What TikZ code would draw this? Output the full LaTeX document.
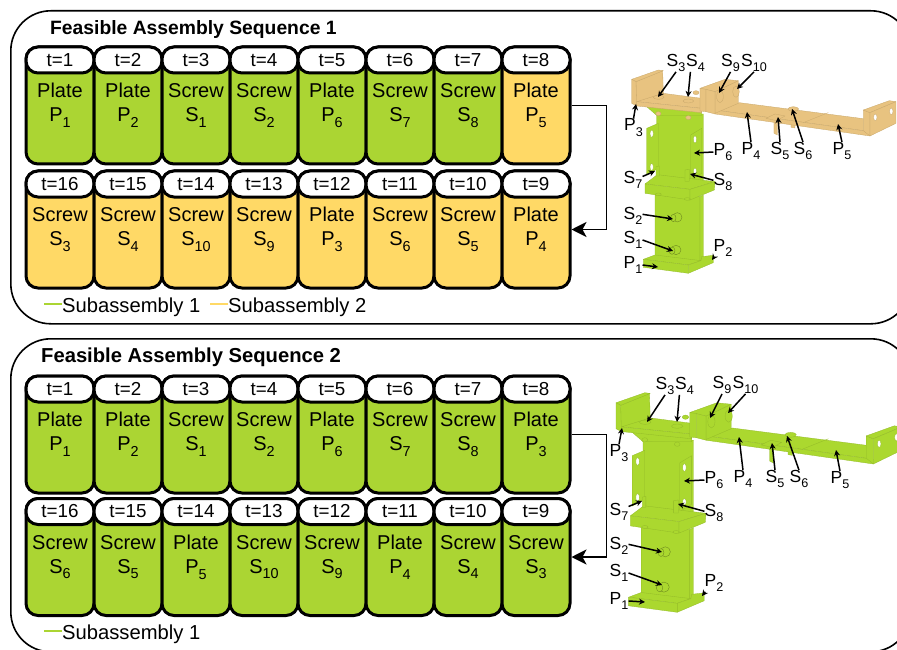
\documentclass[tikz,border=0pt]{standalone}
\usepackage{graphicx}
\usepackage{fontspec}
\setmainfont{Liberation Sans}
\usetikzlibrary{arrows.meta}

\definecolor{cellgreen}{HTML}{ABD533}
\definecolor{cellyellow}{HTML}{FFD966}
\definecolor{partgreen}{HTML}{ABD82F}
\definecolor{edgegreen}{HTML}{93BA28}
\definecolor{parttan}{HTML}{E8C380}
\definecolor{edgetan}{HTML}{C8A76A}

\tikzset{
  panel/.style={draw, line width=1.6pt, rounded corners=40pt, minimum width=900pt, minimum height=313pt, anchor=north west},
  cellbox/.style={draw, line width=3pt, rounded corners=12pt, minimum width=68pt, minimum height=117pt, inner sep=0pt, align=center, font=\fontsize{20}{24}\selectfont},
  greencell/.style={cellbox, fill=cellgreen},
  yellowcell/.style={cellbox, fill=cellyellow},
  headbox/.style={draw, fill=white, line width=3pt, rounded corners=12pt, minimum width=68pt, minimum height=26pt, inner sep=0pt, anchor=north, font=\fontsize{18.8}{20}\selectfont},
  titletext/.style={anchor=west, inner sep=0pt, font=\bfseries\fontsize{19.3}{22}\selectfont},
  legendtext/.style={anchor=west, inner sep=0pt, font=\fontsize{20.2}{22}\selectfont},
  partlabel/.style={inner sep=0pt, font=\fontsize{17.5}{20}\selectfont},
  pin/.style={-{Stealth[length=6pt,width=6pt]}, line width=1.5pt},
  linkarrow/.style={-{Stealth[length=15pt,width=15pt,inset=4pt]}, line width=1.7pt},
  part/.style={draw=edgegreen, fill=partgreen, line width=0.3pt, line join=round},
  upper/.style={draw=uppedge, fill=upperfill, line width=0.3pt, line join=round},
  screwhead/.style={draw=edgegreen!75!black, fill=partgreen, line width=0.4pt},
  hole/.style={draw=edgegreen, fill=white, line width=0.3pt}
}

\newcommand{\dn}[1]{\raisebox{-0.55ex}{\scalebox{0.72}{#1}}}

% one time step: box with its header on top
\newcommand{\cell}[4]{
  \node[#1] (#2) {#4};
  \node[headbox] (#2h) at (#2.north) {#3};
}

% label of a part with its arrow
\newcommand{\callout}[5]{
  \node[partlabel] (#1) at (#2) {#3};
  \coordinate (#1t) at (#5);
  \draw[pin] (#1.#4) -- (#1t);
}

% the assembled parts, drawn in the 3x crop coordinates
\newcommand{\assemblyparts}{
  % lower post and base
  \draw[part] (165,465) -- (300,470) -- (300,665) -- (165,650) -- cycle;
  \draw[part] (300,470) -- (310,465) -- (310,650) -- (300,665) -- cycle;
  \draw[part] (130,658) -- (165,645) -- (303,662) -- (265,675) -- cycle;
  \draw[part] (303,662) -- (305,650) -- (340,646) -- (340,668) -- (265,700) -- (265,675) -- cycle;
  \draw[part] (130,658) -- (265,675) -- (265,700) -- (130,682) -- cycle;
  \draw[screwhead] (232,532) ellipse [x radius=14, y radius=14];
  \draw[screwhead] (220,534) ellipse [x radius=8, y radius=11];
  \draw[screwhead] (228,630) ellipse [x radius=15, y radius=14];
  \draw[screwhead] (216,632) ellipse [x radius=9, y radius=11];
  % bracket
  \draw[part] (170,225) -- (310,222) -- (310,430) -- (170,405) -- cycle;
  \draw[part] (140,265) -- (175,250) -- (175,385) -- (140,405) -- cycle;
  \draw[part] (272,285) -- (305,265) -- (305,400) -- (272,420) -- cycle;
  \draw[hole] (155,281) ellipse [x radius=5, y radius=11];
  \draw[hole] (155,381) ellipse [x radius=5, y radius=11];
  \draw[hole] (285,298) ellipse [x radius=5, y radius=11];
  \draw[hole] (285,393) ellipse [x radius=5, y radius=9];
  % middle plate
  \draw[part] (135,432) -- (172,404) -- (345,425) -- (270,448) -- cycle;
  \draw[part] (135,432) -- (270,448) -- (270,480) -- (135,460) -- cycle;
  \draw[part] (270,448) -- (345,425) -- (343,450) -- (270,480) -- cycle;
  \draw[part] (168,380) -- (178,378) -- (178,408) -- (168,408) -- cycle;
  \draw[part] (255,390) -- (268,388) -- (268,424) -- (255,424) -- cycle;
  \draw[part] (175,463) ellipse [x radius=9, y radius=4];
  \draw[part] (262,477) ellipse [x radius=9, y radius=4];
  % strip under the top plates
  \draw[part] (140,200) -- (305,210) -- (305,226) -- (170,226) -- cycle;
  \draw[upper] (175,221) ellipse [x radius=8, y radius=6];
  \draw[upper] (265,233) ellipse [x radius=8, y radius=6];
  % plate with the left wall
  \draw[upper] (288,158) ellipse [x radius=9, y radius=6];
  \draw[upper] (108,125) -- (188,92) -- (190,160) -- (108,190) -- cycle;
  \draw[upper] (95,118) -- (175,90) -- (190,92) -- (108,125) -- cycle;
  \draw[upper] (95,118) -- (108,125) -- (110,198) -- (95,190) -- cycle;
  \draw[upper] (110,185) -- (190,160) -- (305,175) -- (305,205) -- cycle;
  \draw[upper] (110,185) -- (305,205) -- (305,218) -- (110,198) -- cycle;
  \draw[upper] (176,172) ellipse [x radius=16, y radius=6];
  \draw[upper] (265,183) ellipse [x radius=16, y radius=6];
  % screw shanks below the long plates
  \draw[upper] (522,240) -- (532,240) -- (532,285) -- (522,280) -- cycle;
  \draw[upper] (573,245) -- (585,245) -- (585,264) -- (573,262) -- cycle;
  % long plates
  \draw[upper] (345,210) -- (418,188) -- (790,236) -- (790,272) -- cycle;
  \draw[upper] (345,210) -- (810,275) -- (810,288) -- (345,222) -- cycle;
  \draw[upper] (610,248) -- (685,218);
  % right wall
  \draw[upper] (790,210) -- (810,218) -- (810,288) -- (790,272) -- cycle;
  \draw[upper] (790,210) -- (868,182) -- (888,185) -- (810,218) -- cycle;
  \draw[upper] (810,218) -- (888,185) -- (888,250) -- (810,288) -- cycle;
  \draw[upper, fill=white] (826,232) ellipse [x radius=5, y radius=10];
  \draw[upper, fill=white] (874,214) ellipse [x radius=5, y radius=10];
  % left block of the long plate
  \draw[upper] (345,155) -- (415,122) -- (415,190) -- (345,220) -- cycle;
  \draw[upper] (300,145) -- (375,118) -- (415,122) -- (345,155) -- cycle;
  \draw[upper] (300,145) -- (318,148) -- (318,215) -- (300,213) -- cycle;
  \draw[upper] (318,148) -- (345,155) -- (345,222) -- (318,215) -- cycle;
  \draw[upper] (360,170) ellipse [x radius=10, y radius=18];
  \draw[upper] (408,155) ellipse [x radius=10, y radius=17];
  % screw heads
  \draw[upper] (498,235) -- (525,222) -- (555,228) -- (530,242) -- cycle;
  \draw[upper] (580,207) ellipse [x radius=16, y radius=7];
}

\begin{document}
\begin{tikzpicture}[x=1pt, y=-1pt, node distance=68pt]

  \clip (0,0) rectangle (897,650);

  % Panels
  \node[panel] (panelA) at (10,10) {};
  \node[panel] (panelB) at (10,338) {};
  \node[titletext] (titleA) at (50,30) {Feasible Assembly Sequence 1};
  \node[titletext, font=\bfseries\fontsize{20.2}{22}\selectfont] (titleB) at (41,357) {Feasible Assembly Sequence 2};

  % First sequence, first row
  \cell{greencell, at={(60,105.5)}}{A1}{t=1}{Plate\\P\dn{1}}
  \cell{greencell, right of=A1}{A2}{t=2}{Plate\\P\dn{2}}
  \cell{greencell, right of=A2}{A3}{t=3}{Screw\\S\dn{1}}
  \cell{greencell, right of=A3}{A4}{t=4}{Screw\\S\dn{2}}
  \cell{greencell, right of=A4}{A5}{t=5}{Plate\\P\dn{6}}
  \cell{greencell, right of=A5}{A6}{t=6}{Screw\\S\dn{7}}
  \cell{greencell, right of=A6}{A7}{t=7}{Screw\\S\dn{8}}
  \cell{yellowcell, right of=A7}{A8}{t=8}{Plate\\P\dn{5}}

  % First sequence, second row
  \cell{yellowcell, at={(60,229.5)}}{B1}{t=16}{Screw\\S\dn{3}}
  \cell{yellowcell, right of=B1}{B2}{t=15}{Screw\\S\dn{4}}
  \cell{yellowcell, right of=B2}{B3}{t=14}{Screw\\S\dn{10}}
  \cell{yellowcell, right of=B3}{B4}{t=13}{Screw\\S\dn{9}}
  \cell{yellowcell, right of=B4}{B5}{t=12}{Plate\\P\dn{3}}
  \cell{yellowcell, right of=B5}{B6}{t=11}{Screw\\S\dn{6}}
  \cell{yellowcell, right of=B6}{B7}{t=10}{Screw\\S\dn{5}}
  \cell{yellowcell, right of=B7}{B8}{t=9}{Plate\\P\dn{4}}

  % Second sequence, first row
  \cell{greencell, at={(60,434.5)}}{C1}{t=1}{Plate\\P\dn{1}}
  \cell{greencell, right of=C1}{C2}{t=2}{Plate\\P\dn{2}}
  \cell{greencell, right of=C2}{C3}{t=3}{Screw\\S\dn{1}}
  \cell{greencell, right of=C3}{C4}{t=4}{Screw\\S\dn{2}}
  \cell{greencell, right of=C4}{C5}{t=5}{Plate\\P\dn{6}}
  \cell{greencell, right of=C5}{C6}{t=6}{Screw\\S\dn{7}}
  \cell{greencell, right of=C6}{C7}{t=7}{Screw\\S\dn{8}}
  \cell{greencell, right of=C7}{C8}{t=8}{Plate\\P\dn{3}}

  % Second sequence, second row
  \cell{greencell, at={(60,557)}}{D1}{t=16}{Screw\\S\dn{6}}
  \cell{greencell, right of=D1}{D2}{t=15}{Screw\\S\dn{5}}
  \cell{greencell, right of=D2}{D3}{t=14}{Plate\\P\dn{5}}
  \cell{greencell, right of=D3}{D4}{t=13}{Screw\\S\dn{10}}
  \cell{greencell, right of=D4}{D5}{t=12}{Screw\\S\dn{9}}
  \cell{greencell, right of=D5}{D6}{t=11}{Plate\\P\dn{4}}
  \cell{greencell, right of=D6}{D7}{t=10}{Screw\\S\dn{4}}
  \cell{greencell, right of=D7}{D8}{t=9}{Screw\\S\dn{3}}

  % Links between the rows
  \draw[linkarrow] (A8.east) -- ++(35,0) |- (B8.east);
  \draw[linkarrow] (C8.east) -- ++(35,0) |- (D8.east);

  % Legends
  \node[legendtext] (legendA1) at (62,307) {Subassembly 1};
  \draw[cellgreen, line width=2pt] ([yshift=3pt]legendA1.west) -- ++(-18,0);
  \node[legendtext] (legendA2) at (228,307) {Subassembly 2};
  \draw[cellyellow, line width=2pt] ([yshift=3pt]legendA2.west) -- ++(-18,0);
  \node[legendtext] (legendB1) at (62,634) {Subassembly 1};
  \draw[cellgreen, line width=2pt] ([yshift=3pt]legendB1.west) -- ++(-18,0);

  % First assembly
  \colorlet{upperfill}{parttan}
  \colorlet{uppedge}{edgetan}
  \begin{scope}[shift={(600,40)}, scale=0.3333]
    \assemblyparts
  \end{scope}
  \callout{Ap3}{633.5,127.5}{P\dn{3}}{90}{636,104}
  \callout{As3}{676,63}{S\dn{3}}{270}{658,97}
  \callout{As4}{695.5,63}{S\dn{4}}{240}{688,97}
  \callout{As9}{730.5,63}{S\dn{9}}{270}{719,93}
  \callout{As10}{754,63}{S\dn{10}}{270}{737,89}
  \callout{Ap4}{751,151}{P\dn{4}}{90}{747,112}
  \callout{As5}{780,151}{S\dn{5}}{90}{778,117}
  \callout{As6}{803,151}{S\dn{6}}{90}{792,109}
  \callout{Ap5}{842,151}{P\dn{5}}{90}{838,124}
  \callout{Ap6}{723,152}{P\dn{6}}{180}{694,153}
  \callout{As8}{723,182}{S\dn{8}}{170}{690,174}
  \callout{As7}{633,180}{S\dn{7}}{20}{655,171}
  \callout{As2}{633,216}{S\dn{2}}{10}{673,219}
  \callout{As1}{633,240}{S\dn{1}}{0}{673,251}
  \callout{Ap1}{633,265}{P\dn{1}}{0}{658,267}
  \callout{Ap2}{723,248}{P\dn{2}}{225}{712,260}

  % Second assembly
  \colorlet{upperfill}{partgreen}
  \colorlet{uppedge}{edgegreen}
  \begin{scope}[shift={(581.8,360.3)}, scale=0.36]
    \assemblyparts
  \end{scope}
  \callout{Bp3}{619,453}{P\dn{3}}{90}{622,428}
  \callout{Bs3}{665,386}{S\dn{3}}{270}{647,422}
  \callout{Bs4}{684.5,386}{S\dn{4}}{240}{677,422}
  \callout{Bs9}{722,385}{S\dn{9}}{270}{710,418}
  \callout{Bs10}{745.5,385}{S\dn{10}}{270}{728,413}
  \callout{Bp4}{743,479}{P\dn{4}}{90}{739,437}
  \callout{Bs5}{775,479}{S\dn{5}}{90}{772,443}
  \callout{Bs6}{799,479}{S\dn{6}}{90}{787,436}
  \callout{Bp5}{840,480}{P\dn{5}}{90}{836,450}
  \callout{Bp6}{714,480}{P\dn{6}}{180}{684,481}
  \callout{Bs8}{714,513}{S\dn{8}}{170}{678,504}
  \callout{Bs7}{619,512}{S\dn{7}}{30}{642,501}
  \callout{Bs2}{619,546}{S\dn{2}}{10}{662,552}
  \callout{Bs1}{619,573}{S\dn{1}}{0}{662,585}
  \callout{Bp1}{619,601}{P\dn{1}}{0}{645,602}
  \callout{Bp2}{714,583}{P\dn{2}}{225}{702,596}

\end{tikzpicture}
\end{document}
